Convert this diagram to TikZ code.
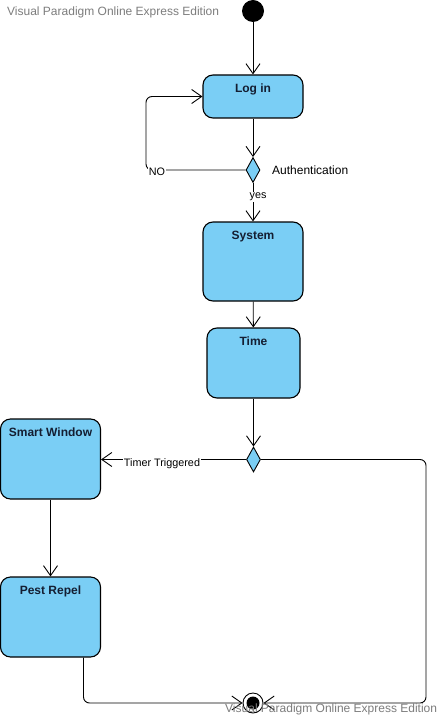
\documentclass[tikz,border=0pt]{standalone}
\usepackage{fontspec}
\setmainfont{Liberation Sans}
\usetikzlibrary{arrows.meta,shapes.geometric}
\definecolor{actfill}{RGB}{122,206,245}
\definecolor{wmgray}{RGB}{125,125,125}
\definecolor{acttext}{RGB}{20,30,50}
\begin{document}
\begin{tikzpicture}[x=1pt,y=-1pt,
  actbox/.style={draw=black,fill=actfill,rounded corners=10pt,line width=1.1pt,inner sep=0pt},
  acttitle/.style={anchor=north,font=\fontsize{12}{14}\selectfont\bfseries,text=acttext,inner sep=0pt},
  decis/.style={diamond,draw=black,fill=actfill,line width=0.9pt,inner sep=0pt,minimum width=14pt,minimum height=25pt},
  arr/.style={-{Straight Barb[length=10pt,width=14pt]},line width=0.9pt},
  lbl/.style={font=\fontsize{10.8}{13}\selectfont,fill=white,inner sep=1pt},
  wmark/.style={font=\fontsize{12}{14}\selectfont,text=wmgray,anchor=west,inner sep=0pt}
]
\useasboundingbox (0,0) rectangle (442,719);
\fill[white] (0,0) rectangle (442,719);

\node[wmark] (wm1) at (7,12) {Visual Paradigm Online Express Edition};

\node[circle,fill=black,minimum size=22pt,inner sep=0pt] (init) at (253,11) {};

\node[actbox,minimum width=100pt,minimum height=43pt] (login) at (253,96.5) {};
\node[acttitle] (logint) at ([yshift=-9pt]login.north) {Log in};

\node[decis] (d1) at (253,170) {};
\node[anchor=west,font=\fontsize{12}{14}\selectfont,inner sep=0pt] (auth) at (272,170) {Authentication};

\node[actbox,minimum width=100pt,minimum height=79pt] (system) at (253,261.5) {};
\node[acttitle] (systemt) at ([yshift=-9pt]system.north) {System};

\node[actbox,minimum width=93pt,minimum height=70pt] (time) at (253.5,363) {};
\node[acttitle] (timet) at ([yshift=-9pt]time.north) {Time};

\node[decis] (d2) at (253.5,459.5) {};

\node[actbox,minimum width=100pt,minimum height=80pt] (smart) at (50.5,459) {};
\node[acttitle] (smartt) at ([yshift=-9pt]smart.north) {Smart Window};

\node[actbox,minimum width=100pt,minimum height=80pt] (pest) at (50.5,617) {};
\node[acttitle] (pestt) at ([yshift=-9pt]pest.north) {Pest Repel};

\node[circle,draw=black,fill=white,line width=0.9pt,minimum size=20pt,inner sep=0pt] (final) at (253,703) {};
\node[circle,fill=black,minimum size=13pt,inner sep=0pt] (finalin) at (final.center) {};

\coordinate (noc) at (146,170);
\coordinate (rc) at (426,459.5);

\draw[arr] (init) -- (login);
\draw[arr] (login) -- (d1);
\draw[arr,rounded corners=6pt] (d1.west) -- (noc) |- (login.west);
\node[lbl] (nolbl) at (157,172) {NO};
\draw[arr] (d1) -- (system);
\node[lbl] (yeslbl) at (258,197) {yes};
\draw[arr] (system) -- (time);
\draw[arr] (time) -- (d2);
\draw[arr] (d2.west) -- (d2.west -| smart.east);
\node[lbl] (timerlbl) at (162,464) {Timer Triggered};
\draw[arr,rounded corners=6pt] (d2.east) -- (rc) |- (final.east);
\draw[arr] (smart.south) -- (pest.north);
\draw[arr,rounded corners=6pt] ([xshift=33pt]pest.south) |- (final.west);

\node[wmark] (wm2) at (225,709) {Visual Paradigm Online Express Edition};
\end{tikzpicture}
\end{document}
